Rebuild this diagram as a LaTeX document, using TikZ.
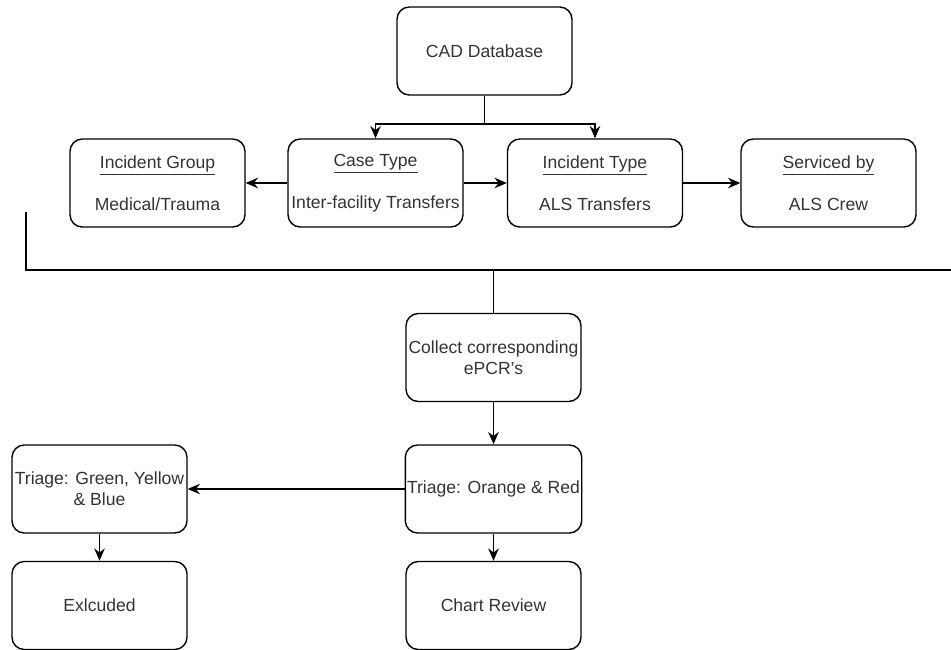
\documentclass[tikz,border=0pt]{standalone}
\usepackage{fontspec}
\setmainfont{Liberation Sans}
\usetikzlibrary{arrows.meta}

\tikzset{
  box/.style={draw, rounded corners=7pt, line width=0.8pt, minimum width=3.5cm,
    minimum height=1.76cm, align=center, text=black!80, inner xsep=1pt,
    font=\fontsize{10}{12}\selectfont},
  arr/.style={line width=0.8pt, -{Stealth[length=7pt,width=6pt]}},
  ln/.style={line width=0.8pt}
}

\begin{document}
\begin{tikzpicture}
  \useasboundingbox (0,0) rectangle (19.02,-12.98);

  \node[box] (cad) at (9.69,-1.02) {CAD Database};

  \node[box] (group) at (3.15,-3.66) {\underline{Incident Group}\\[12pt]Medical/Trauma};
  \node[box] (case) at (7.51,-3.66) {\underline{Case Type}\\[12pt]Inter-facility Transfers};
  \node[box] (itype) at (11.90,-3.66) {\underline{Incident Type}\\[12pt]ALS Transfers};
  \node[box] (crew) at (16.57,-3.66) {\underline{Serviced by}\\[12pt]ALS Crew};

  \node[box] (collect) at (9.87,-7.15) {Collect corresponding\\ePCR's};
  \node[box] (orange) at (9.87,-9.78) {Triage: Orange \& Red};
  \node[box] (green) at (1.99,-9.78) {Triage: Green, Yellow\\\& Blue};
  \node[box] (excl) at (1.99,-12.11) {Exlcuded};
  \node[box] (chart) at (9.87,-12.11) {Chart Review};

  % split below the database
  \coordinate (fork) at (9.69,-2.48);
  \draw[ln] (cad) -- (fork);
  \draw[arr] (fork) -| (case);
  \draw[arr] (fork) -| (itype);

  \draw[arr] (case) -- (group);
  \draw[arr] (case) -- (itype);
  \draw[arr] (itype) -- (crew);

  % bracket under the first row
  \coordinate (bl) at (0.52,-4.24);
  \coordinate (br) at (19.02,-5.40);
  \draw[ln] (bl) |- (br);
  \draw[ln] (collect.north) -- (collect.north |- br);

  \draw[arr] (collect) -- (orange);
  \draw[arr] (orange) -- (green);
  \draw[arr] (orange) -- (chart);
  \draw[arr] (green) -- (excl);
\end{tikzpicture}
\end{document}
